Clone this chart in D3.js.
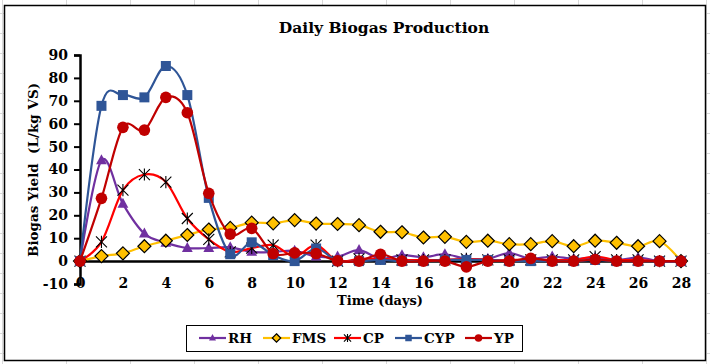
<!DOCTYPE html>
<html>
<head>
<meta charset="utf-8">
<script src="https://cdn.jsdelivr.net/npm/d3@7"></script>
<style>
  body { margin: 0; background: #fff; }
  svg { display: block; }
</style>
</head>
<body>
<div id="chart"></div>
<script>
// Daily biogas production per substrate, days 0..28
const days = d3.range(0, 29);
const RH  = [0, 44, 25, 12, 8, 5.7, 5.7, 6, 4, 4, 4.5, 2, 2, 4.8, 1, 2.6, 1.7, 3, 1, 1, 3.5, 1, 2, 1, 1.5, 0.5, 1.5, 0, 0];
const FMS = [0, 2.2, 3.4, 6.5, 8.9, 11.4, 13.8, 14.5, 16.8, 16.5, 17.9, 16.4, 16.2, 15.7, 12.8, 12.6, 10.3, 10.6, 8.4, 8.9, 7.4, 7.4, 8.7, 6.5, 8.9, 8, 6.5, 8.7, 0];
const CP  = [0, 8.4, 31, 37.8, 34.5, 18.6, 9.5, 4, 5.7, 7, 2, 7, 0, 1, 1, 0.5, 0.5, 0.5, 1, 0.5, 0.5, 0.5, 0.5, 0.5, 2, 0.5, 0.5, 0, 0];
const CYP = [0, 67.8, 72.5, 71.5, 85.2, 72.5, 27.6, 3, 8.2, 2.6, 0, 5.5, 0, 0, 0.5, 0, 0, 0.5, 0.5, 0.5, 0, 0, 0, 0, 0.5, 0, 0, 0, 0];
const YP  = [0, 27.4, 58.4, 57.2, 71.5, 64.8, 29.6, 11.8, 14.3, 3.3, 3.6, 3.3, 0.1, 0, 3, 0, 0, 0, -2.5, 0, 0, 1.2, 0, 0, 0.7, 0, 0, 0, 0];

const xTicks = d3.range(0, 29, 2);
const yTicks = d3.range(-10, 91, 10);

const series = [
  { name: "RH",  values: RH,  line: "#7030A0", marker: "triangle" },
  { name: "FMS", values: FMS, line: "#FFC000", marker: "diamond" },
  { name: "CP",  values: CP,  line: "#FF0000", marker: "star" },
  { name: "CYP", values: CYP, line: "#2F5597", marker: "square" },
  { name: "YP",  values: YP,  line: "#C00000", marker: "circle" },
];

const W = 710, H = 364;
const serif = "'DejaVu Serif', 'Liberation Serif', serif";

const svg = d3.select("#chart").append("svg")
  .attr("width", W).attr("height", H);

// ── Spreadsheet cells behind the chart ──
const cells = svg.append("g").attr("stroke", "#d9d9d9").attr("stroke-width", 1);
for (let x = 2; x < W; x += 64) {
  cells.append("line").attr("x1", x + 0.5).attr("x2", x + 0.5).attr("y1", 0).attr("y2", H);
}
for (let y = 13; y < H; y += 20) {
  cells.append("line").attr("x1", 0).attr("x2", W).attr("y1", y + 0.5).attr("y2", y + 0.5);
}

// chart frame
svg.append("rect")
  .attr("x", 4.5).attr("y", 5.5).attr("width", 701).attr("height", 355)
  .attr("fill", "#fff").attr("stroke", "#000").attr("stroke-width", 1.5);

const x = d3.scaleLinear().domain([0, 28]).range([80, 681]);
const y = d3.scaleLinear().domain([-10, 90]).range([284, 55]);

// ── Title ──
svg.append("text")
  .attr("x", 384).attr("y", 33)
  .attr("text-anchor", "middle")
  .attr("font-family", serif).attr("font-weight", "bold")
  .attr("font-size", 15.5)
  .text("Daily Biogas Production");

// ── Y axis ──
const yAxis = svg.append("g")
  .attr("transform", `translate(${x(0)},0)`)
  .call(d3.axisLeft(y).tickValues(yTicks).tickSize(6).tickPadding(6).tickFormat(d => String(d)));
yAxis.select(".domain").attr("stroke", "#000").attr("stroke-width", 2.5);
yAxis.selectAll(".tick line").attr("stroke", "#000").attr("stroke-width", 2);
yAxis.selectAll(".tick text")
  .attr("font-family", serif).attr("font-weight", "bold").attr("font-size", 14).attr("fill", "#000");

// ── X axis (sits at y = 0) ──
const xAxis = svg.append("g")
  .attr("transform", `translate(0,${y(0)})`)
  .call(d3.axisBottom(x).tickValues(xTicks).tickSize(0).tickFormat(d => String(d)));
xAxis.select(".domain").attr("stroke", "#000").attr("stroke-width", 2.5);
xAxis.selectAll(".tick text")
  .attr("y", 0).attr("dy", 0)
  .attr("transform", `translate(0,${288 - y(0)})`)
  .attr("font-family", serif).attr("font-weight", "bold").attr("font-size", 14).attr("fill", "#000");

// axis titles
svg.append("text")
  .attr("transform", "translate(38,170) rotate(-90)")
  .attr("text-anchor", "middle")
  .attr("font-family", serif).attr("font-weight", "bold").attr("font-size", 13.5)
  .attr("xml:space", "preserve")
  .text("Biogas Yield  (L/kg VS)");

svg.append("text")
  .attr("x", 380).attr("y", 305)
  .attr("text-anchor", "middle")
  .attr("font-family", serif).attr("font-weight", "bold").attr("font-size", 13)
  .text("Time (days)");

// ── Markers ──
function drawMarker(g, type, cx, cy, s, color) {
  if (type === "triangle") {
    const r = 6 * s;
    g.append("path")
      .attr("d", `M${cx},${cy - r}L${cx + r * 0.9},${cy + r * 0.65}L${cx - r * 0.9},${cy + r * 0.65}Z`)
      .attr("fill", color);
  } else if (type === "diamond") {
    const r = 6.5 * s;
    g.append("path")
      .attr("d", `M${cx},${cy - r}L${cx + r},${cy}L${cx},${cy + r}L${cx - r},${cy}Z`)
      .attr("fill", "#FFC000").attr("stroke", "#000").attr("stroke-width", 1.2);
  } else if (type === "star") {
    const r = 5.5 * s;
    g.append("path")
      .attr("d", `M${cx - r},${cy - r}L${cx + r},${cy + r}M${cx - r},${cy + r}L${cx + r},${cy - r}M${cx},${cy - r * 1.1}L${cx},${cy + r * 1.1}`)
      .attr("stroke", "#000").attr("stroke-width", 1.1).attr("fill", "none");
  } else if (type === "square") {
    const r = 5 * s;
    g.append("rect")
      .attr("x", cx - r).attr("y", cy - r).attr("width", 2 * r).attr("height", 2 * r)
      .attr("fill", color);
  } else if (type === "circle") {
    g.append("circle").attr("cx", cx).attr("cy", cy).attr("r", 5.8 * s).attr("fill", color);
  }
}

const line = d3.line()
  .x((d, i) => x(days[i]))
  .y(d => y(d))
  .curve(d3.curveCardinal.tension(0));

const plot = svg.append("g");
for (const s of series) {
  const g = plot.append("g");
  g.append("path")
    .attr("d", line(s.values))
    .attr("fill", "none")
    .attr("stroke", s.line)
    .attr("stroke-width", 2.2);
  s.values.forEach((v, i) => drawMarker(g, s.marker, x(days[i]), y(v), 1, s.line));
}

// ── Legend ──
const legend = svg.append("g");
legend.append("rect")
  .attr("x", 186.5).attr("y", 325.5).attr("width", 336).attr("height", 26)
  .attr("fill", "#fff").attr("stroke", "#000").attr("stroke-width", 1);
const legendX = [199, 263, 334, 395, 465];
series.forEach((s, i) => {
  const lx = legendX[i], ly = 338;
  legend.append("line")
    .attr("x1", lx).attr("x2", lx + 27).attr("y1", ly).attr("y2", ly)
    .attr("stroke", s.line).attr("stroke-width", 2.2);
  drawMarker(legend, s.marker, lx + 13.5, ly, 0.65, s.line);
  legend.append("text")
    .attr("x", lx + 29).attr("y", ly + 5)
    .attr("font-family", serif).attr("font-weight", "bold").attr("font-size", 13.5)
    .text(s.name);
});
</script>
</body>
</html>
